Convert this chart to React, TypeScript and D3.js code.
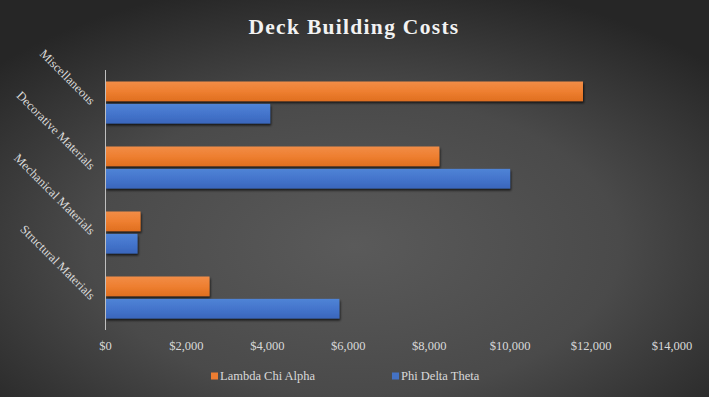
import React from 'react';
import * as d3 from 'd3';

const categories = ['Miscellaneous', 'Decorative Materials', 'Mechanical Materials', 'Structural Materials'];
const seriesNames = ['Lambda Chi Alpha', 'Phi Delta Theta'];
const lambdaChiAlpha = [11800, 8250, 865, 2570];
const phiDeltaTheta = [4070, 10000, 790, 5780];
const xTicks = [0, 2000, 4000, 6000, 8000, 10000, 12000, 14000];

const W = 709;
const H = 397;
const serif = "'Liberation Serif', 'Times New Roman', serif";

const App = () => {
  const x = d3.scaleLinear().domain([0, 14000]).range([105.5, 672]);
  const y = d3.scaleBand().domain(categories).range([70, 330]).paddingInner(0.354).paddingOuter(0.177);
  const inner = d3.scaleBand().domain(seriesNames).range([0, y.bandwidth()]).paddingInner(0.12);
  const fmt = d3.format('$,');

  const series = [
    { name: seriesNames[0], values: lambdaChiAlpha, fill: 'url(#orangeGrad)', swatch: '#ED7D31' },
    { name: seriesNames[1], values: phiDeltaTheta, fill: 'url(#blueGrad)', swatch: '#4472C4' },
  ];

  const txt = { fontFamily: serif };

  return (
    <svg width={W} height={H} style={{ position: 'absolute', left: 0, top: 0 }}>
      <defs>
        <radialGradient id="bg" cx="50%" cy="62%" r="68%">
          <stop offset="0%" stopColor="#5a5a5a" />
          <stop offset="55%" stopColor="#4a4a4a" />
          <stop offset="100%" stopColor="#262626" />
        </radialGradient>
        <linearGradient id="orangeGrad" x1="0" y1="0" x2="0" y2="1">
          <stop offset="0%" stopColor="#F28D48" />
          <stop offset="50%" stopColor="#EE7F30" />
          <stop offset="100%" stopColor="#E06F20" />
        </linearGradient>
        <linearGradient id="blueGrad" x1="0" y1="0" x2="0" y2="1">
          <stop offset="0%" stopColor="#5084D6" />
          <stop offset="50%" stopColor="#4475CC" />
          <stop offset="100%" stopColor="#3A66BC" />
        </linearGradient>
        <filter id="shadow" x="-5%" y="-30%" width="115%" height="180%">
          <feDropShadow dx="1" dy="2" stdDeviation="1.2" floodColor="#000" floodOpacity="0.7" />
        </filter>
      </defs>

      <rect width={W} height={H} fill="url(#bg)" />

      <text x={354} y={34} textAnchor="middle" fill="#f2f2f2" fontSize={21.5} fontWeight="bold" letterSpacing={1.3} style={txt}>
        Deck Building Costs
      </text>

      {/* bars */}
      {categories.map((c, i) => (
        <g key={c} transform={`translate(0,${y(c)})`}>
          {series.map((s) => (
            <rect
              key={s.name}
              x={x(0)}
              y={inner(s.name)}
              width={x(s.values[i]) - x(0)}
              height={inner.bandwidth()}
              fill={s.fill}
              filter="url(#shadow)"
            />
          ))}
        </g>
      ))}

      {/* axis line */}
      <line x1={x(0)} x2={x(0)} y1={70} y2={330} stroke="#bfbfbf" strokeWidth={1} />

      {/* category labels */}
      {categories.map((c) => {
        const cy = (y(c) ?? 0) + y.bandwidth() / 2;
        return (
          <text
            key={c}
            transform={`translate(90,${cy + 3}) rotate(45)`}
            textAnchor="end"
            fill="#d9d9d9"
            fontSize={12.5}
            style={txt}
          >
            {c}
          </text>
        );
      })}

      {/* x tick labels */}
      {xTicks.map((t) => (
        <text key={t} x={x(t)} y={350} textAnchor="middle" fill="#d9d9d9" fontSize={12.5} style={txt}>
          {fmt(t)}
        </text>
      ))}

      {/* legend */}
      {series.map((s, i) => {
        const lx = i === 0 ? 211 : 392;
        return (
          <g key={s.name} transform={`translate(${lx},376)`}>
            <rect x={0} y={-3.5} width={7} height={7} fill={s.swatch} />
            <text x={9} y={4} fill="#d9d9d9" fontSize={12.5} style={txt}>
              {s.name}
            </text>
          </g>
        );
      })}
    </svg>
  );
};

export default App;
